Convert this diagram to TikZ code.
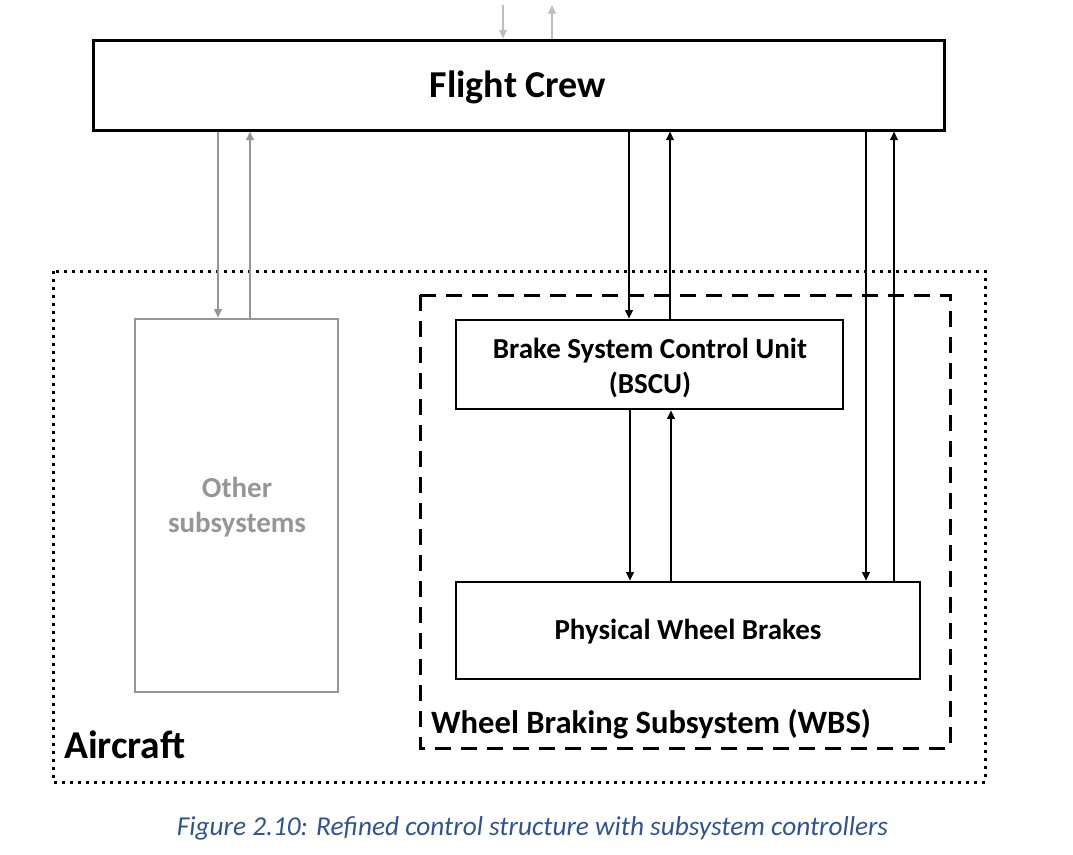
\documentclass[tikz,border=0pt]{standalone}
\usepackage{fontspec}
\setmainfont{Carlito}
\usetikzlibrary{arrows.meta}
\definecolor{capblue}{RGB}{47,84,150}
\definecolor{othergray}{RGB}{150,150,150}
\definecolor{topgray}{RGB}{190,190,190}
\tikzset{
  box/.style={draw=black, line width=2.6pt, rectangle, inner sep=0pt},
  graybox/.style={draw=othergray, line width=2.6pt, rectangle, inner sep=0pt},
  boxtext/.style={inner sep=0pt, align=center, font=\bfseries\fontsize{29}{35}\selectfont},
  arr/.style={line width=1.8pt, -{Triangle[length=8.5pt,width=7.5pt]}},
  grayarr/.style={arr, draw=othergray},
  toparr/.style={arr, draw=topgray},
  dottedbox/.style={draw=black, line width=3pt, dash pattern=on 3pt off 5pt},
  dashedbox/.style={draw=black, line width=3pt, dash pattern=on 16pt off 10pt},
  lbl/.style={inner sep=0pt, anchor=west, font=\bfseries\fontsize{32.6}{38}\selectfont},
}
\begin{document}
\begin{tikzpicture}[x=1pt,y=-1pt]
\useasboundingbox (0,0) rectangle (1073,854);
% containers
\draw[dottedbox] (53,271) rectangle (985,782);
\draw[dashedbox] (420,295) rectangle (950,748);
% boxes
\node[box, line width=3pt, minimum width=851pt, minimum height=90pt] (fc) at (518.5,85) {};
\node[graybox, minimum width=203pt, minimum height=373pt] (other) at (236.5,505.5) {};
\node[box, minimum width=387pt, minimum height=89pt] (bscu) at (649.5,364.5) {};
\node[box, minimum width=464pt, minimum height=97pt] (pwb) at (688,630.5) {};
% box texts
\node[boxtext, font=\bfseries\fontsize{38}{44}\selectfont] (fctext) at (518,87) {Flight Crew};
\node[boxtext, text=othergray] (othertext) at (237,507) {Other\\subsystems};
\node[boxtext] (bscutext) at (650,368) {Brake System Control Unit\\(BSCU)};
\node[boxtext] (pwbtext) at (688,632) {Physical Wheel Brakes};
% container labels
\node[lbl, font=\bfseries\fontsize{39.5}{46}\selectfont] (aircraft) at (64,745) {Aircraft};
\node[lbl] (wbs) at (431,724) {Wheel Braking Subsystem (WBS)};
\node[inner sep=0pt, text=capblue, font=\itshape\fontsize{27.3}{33}\selectfont] (cap) at (532.5,828) {Figure 2.10: Refined control structure with subsystem controllers};
% top external arrows
\coordinate (tin) at (503,5);
\coordinate (tout) at (552,5);
\draw[toparr] (tin) -- (fc.north -| tin);
\draw[toparr] (fc.north -| tout) -- (tout);
% flight crew <-> other
\draw[grayarr] (fc.south -| 218,0) -- (other.north -| 218,0);
\draw[grayarr] (other.north -| 250,0) -- (fc.south -| 250,0);
% flight crew <-> bscu
\draw[arr] (fc.south -| 629,0) -- (bscu.north -| 629,0);
\draw[arr] (bscu.north -| 670,0) -- (fc.south -| 670,0);
% bscu <-> pwb
\draw[arr] (bscu.south -| 630,0) -- (pwb.north -| 630,0);
\draw[arr] (pwb.north -| 671,0) -- (bscu.south -| 671,0);
% flight crew <-> pwb
\draw[arr] (fc.south -| 866,0) -- (pwb.north -| 866,0);
\draw[arr] (pwb.north -| 894,0) -- (fc.south -| 894,0);
\end{tikzpicture}
\end{document}
